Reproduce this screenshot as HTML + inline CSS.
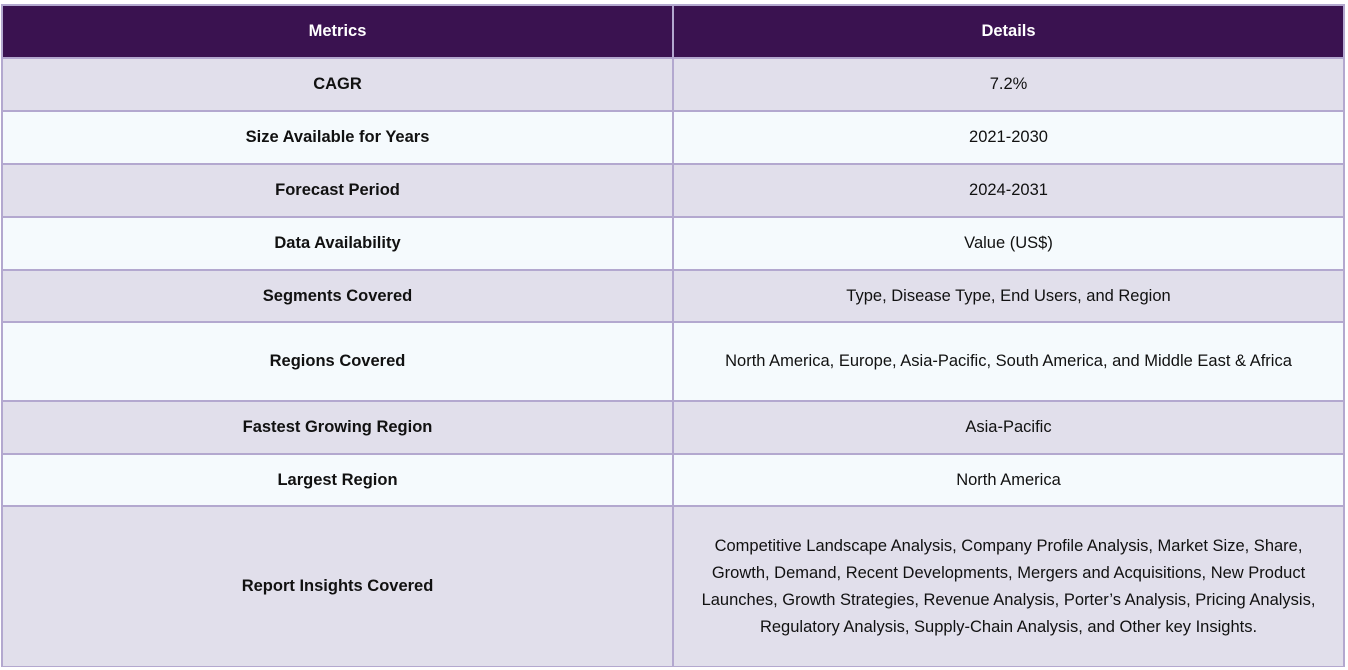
<!DOCTYPE html>
<html><head><meta charset="utf-8"><style>
body{margin:0;width:1348px;height:670px;background:#fff;font-family:"Liberation Sans",sans-serif;overflow:hidden}
.t{position:absolute;left:1px;top:4px;width:1344px;height:663px;background:#b3a8cf}
.c{position:absolute;display:flex;align-items:center;justify-content:center;text-align:center;font-size:16.5px;color:#111;line-height:27px;box-sizing:border-box;padding:0 18px}
.h{background:#3a1250;color:#fff;font-weight:bold}
.a{background:#e1dfeb}.b{background:#f5fafd}
.k{font-weight:bold}
</style></head><body>
<div class="t"></div>
<script>
const metrics=["Metrics","CAGR","Size Available for Years","Forecast Period","Data Availability","Segments Covered","Regions Covered","Fastest Growing Region","Largest Region","Report Insights Covered"];
const details=["Details","7.2%","2021-2030","2024-2031","Value (US$)","Type, Disease Type, End Users, and Region","North America, Europe, Asia-Pacific, South America, and Middle East &amp; Africa","Asia-Pacific","North America","Competitive Landscape Analysis, Company Profile Analysis, Market Size, Share, Growth, Demand, Recent Developments, Mergers and Acquisitions, New Product Launches, Growth Strategies, Revenue Analysis, Porter’s Analysis, Pricing Analysis, Regulatory Analysis, Supply-Chain Analysis, and Other key Insights."];
const ys=[4,57,110,163,216,269,321,400,453,505,666];
for(let i=0;i<metrics.length;i++){
  const top=ys[i]+2,h=ys[i+1]-ys[i]-2;
  const cls=i==0?'h':(i%2?'a':'b');
  const m=document.createElement('div');
  m.className='c '+cls+(i?' k':'');
  m.style.cssText=`left:3px;top:${top}px;width:669px;height:${h}px`;
  m.innerHTML=metrics[i];
  
  
  document.body.appendChild(m);
  const d=document.createElement('div');
  d.className='c '+cls;
  d.style.cssText=`left:674px;top:${top}px;width:669px;height:${h}px`;
  d.innerHTML=details[i];
  
  
  document.body.appendChild(d);
}
</script>
</body></html>
